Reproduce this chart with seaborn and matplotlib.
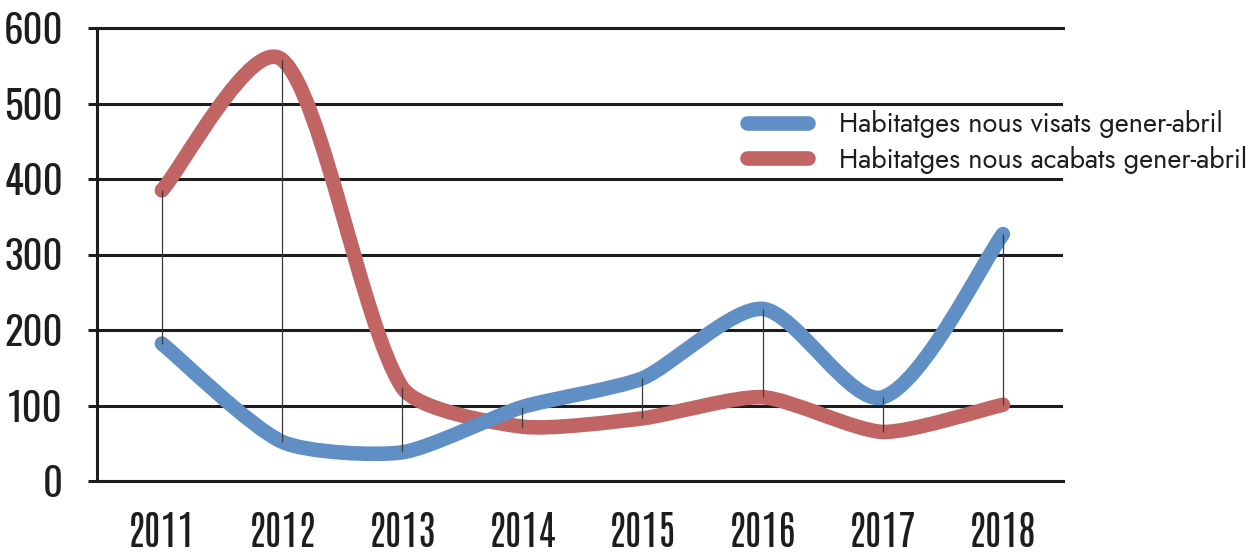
import numpy as np
import pandas as pd
import matplotlib
matplotlib.use('Agg')
import matplotlib.pyplot as plt
from matplotlib.path import Path
from matplotlib.patches import PathPatch
from matplotlib.lines import Line2D
import seaborn as sns

# ---- data ----
years = ['2011', '2012', '2013', '2014', '2015', '2016', '2017', '2018']
visats = [182, 52, 38, 98, 136, 228, 111, 327]
acabats = [385, 558, 124, 72, 83, 111, 65, 101]
series_names = ['Habitatges nous visats gener-abril',
                'Habitatges nous acabats gener-abril']
y_ticks = [0, 100, 200, 300, 400, 500, 600]

BLUE = '#5F8FC5'
RED = '#C06464'
INK = '#1f1c1d'
X_FONT = ['Antonio', 'Oswald', 'Barlow Condensed', 'DejaVu Sans']
Y_FONT = ['Oswald', 'Antonio', 'Barlow Condensed', 'DejaVu Sans']

sns.set_style('white')
plt.rcParams['font.family'] = ['Jost', 'Lato', 'DejaVu Sans']

W, H = 1248, 554
fig = plt.figure(figsize=(W / 100, H / 100), dpi=100)
ax = fig.add_axes([97 / W, 1 - 481 / H, (1063 - 97) / W, (481 - 28) / H])

df = pd.DataFrame({
    'x': list(range(len(years))) * 2,
    'y': visats + acabats,
    'serie': [series_names[0]] * len(years) + [series_names[1]] * len(years),
})
sns.lineplot(data=df, x='x', y='y', hue='serie', hue_order=series_names,
             palette=[BLUE, RED], ax=ax, legend=False, estimator=None,
             sort=False, lw=10.5)

xs = np.arange(len(years))
ax.set_xlim(-0.54, 7.5)
ax.set_ylim(0, 600)


def smooth_path(pts_data, k=0.22):
    """Excel-like smoothed line: Bezier control points from neighbours,
    limited relative to segment length (computed in screen space)."""
    P = ax.transData.transform(np.asarray(pts_data, float))
    n = len(P)
    T = []
    for i in range(n):
        a = P[i - 1] if i > 0 else P[i]
        b = P[i + 1] if i < n - 1 else P[i]
        T.append((b - a) / 6.0)
    verts = [P[0]]
    codes = [Path.MOVETO]
    for i in range(n - 1):
        seg = np.linalg.norm(P[i + 1] - P[i])
        t1, t2 = T[i], T[i + 1]
        n1, n2 = np.linalg.norm(t1), np.linalg.norm(t2)
        if n1 > k * seg:
            t1 = t1 * (k * seg / n1)
        if n2 > k * seg:
            t2 = t2 * (k * seg / n2)
        verts += [P[i] + t1, P[i + 1] - t2, P[i + 1]]
        codes += [Path.CURVE4] * 3
    inv = ax.transData.inverted()
    return Path(inv.transform(np.array(verts)), codes)


# replace seaborn's straight segments by smoothed curves (same data, same axes)
for line, z in zip(list(ax.lines), [4, 3]):
    patch = PathPatch(smooth_path(line.get_xydata()), fill=False,
                      edgecolor=line.get_color(), lw=10.5,
                      capstyle='round', joinstyle='round', zorder=z)
    ax.add_patch(patch)
    line.set_visible(False)

# high-low lines
ax.vlines(xs, np.minimum(visats, acabats), np.maximum(visats, acabats),
          color='#3a3a3a', lw=0.9, zorder=6)

ax.set_xticks(xs)
ax.set_xticklabels(years)
ax.set_yticks(y_ticks)
ax.set_xlabel('')
ax.set_ylabel('')

ax.grid(axis='y', color=INK, lw=2.2)
ax.grid(axis='x', visible=False)
ax.set_axisbelow(True)
for side in ['left', 'top', 'bottom']:
    ax.spines[side].set_visible(True)
    ax.spines[side].set_color(INK)
    ax.spines[side].set_linewidth(2.2)
ax.spines['right'].set_visible(False)

ax.tick_params(axis='y', length=6.5, width=2.2, color=INK, pad=18,
               labelsize=28, labelcolor=INK, left=True)
ax.tick_params(axis='x', length=0, pad=22, labelsize=29, labelcolor=INK)
for lbl in ax.get_yticklabels():
    lbl.set_fontfamily(Y_FONT)
    lbl.set_fontweight(500)
for lbl in ax.get_xticklabels():
    lbl.set_fontfamily(X_FONT)
    lbl.set_fontweight(400)

handles = [Line2D([], [], color=BLUE, lw=10.5, solid_capstyle='round'),
           Line2D([], [], color=RED, lw=10.5, solid_capstyle='round')]
leg = ax.legend(handles, series_names, loc='center left',
                bbox_to_anchor=(747 / W, 1 - 142 / H),
                bbox_transform=fig.transFigure, frameon=False,
                prop={'family': ['Jost', 'Lato', 'DejaVu Sans'], 'size': 19.5},
                handlelength=2.25, handletextpad=1.15, labelspacing=0.28,
                borderpad=0, borderaxespad=0)
for t in leg.get_texts():
    t.set_color(INK)

fig.savefig('out.png', dpi=100)
